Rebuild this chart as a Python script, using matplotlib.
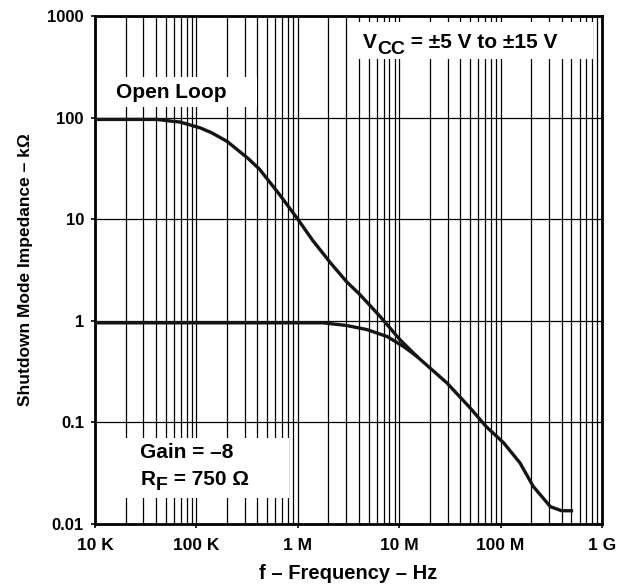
import matplotlib
matplotlib.use("Agg")
import matplotlib.pyplot as plt
import numpy as np
from matplotlib.patches import Rectangle
from matplotlib.ticker import FixedLocator, LogLocator, NullFormatter

plt.rcParams['font.family'] = ['Liberation Sans', 'DejaVu Sans']
plt.rcParams['font.weight'] = 'bold'

# frequency (Hz) and impedance (kOhm)
open_f = [1e4, 4.1e4, 5.8e4, 6.9e4, 1.1e5, 1.41e5, 2e5, 3.2e5, 4.2e5, 6.6e5,
          1e6, 1.4e6, 2.1e6, 3e6, 4.1e6, 6.5e6, 1.02e7, 1.48e7, 2e7, 2.95e7,
          5e7, 7.2e7, 1.07e8, 1.55e8, 2.1e8, 3.1e8, 4e8, 5e8]
open_z = [96, 96, 92, 90.5, 79, 71, 58.5, 40, 31, 17.5,
          10, 6.2, 3.72, 2.45, 1.81, 1.1, 0.65, 0.45, 0.345, 0.245,
          0.139, 0.091, 0.063, 0.040, 0.0234, 0.0148, 0.0135, 0.0135]

closed_f = [1e4, 1e5, 1e6, 1.78e6, 3e6, 4.8e6, 7.6e6, 1.1e7, 1.48e7]
closed_z = [0.955, 0.955, 0.955, 0.955, 0.90, 0.82, 0.70, 0.56, 0.45]

x_ticks = [1e4, 1e5, 1e6, 1e7, 1e8, 1e9]
x_labels = ["10 K", "100 K", "1 M", "10 M", "100 M", "1 G"]
y_ticks = [0.01, 0.1, 1, 10, 100, 1000]
y_labels = ["0.01", "0.1", "1", "10", "100", "1000"]

fig = plt.figure(figsize=(6.28, 5.85), dpi=100)
ax = fig.add_axes([0.1513, 0.1043, 0.8073, 0.8683])

ax.loglog(open_f, open_z, color="#151515", lw=2.4, zorder=4)
ax.loglog(closed_f, closed_z, color="#151515", lw=2.4, zorder=4)

ax.set_xlim(1e4, 1e9)
ax.set_ylim(0.01, 1000)
ax.set_xticks(x_ticks)
ax.set_xticklabels(x_labels)
ax.set_yticks(y_ticks)
ax.set_yticklabels(y_labels)
ax.xaxis.set_minor_locator(LogLocator(base=10, subs=np.arange(2, 10), numticks=20))
ax.xaxis.set_minor_formatter(NullFormatter())
ax.yaxis.set_minor_locator(FixedLocator([]))

ax.grid(True, which="both", axis="x", color="black", lw=0.9)
ax.grid(True, which="major", axis="y", color="black", lw=0.9)
ax.tick_params(which="major", length=3, width=1.2, direction="out")
ax.tick_params(axis="x", labelsize=12.5, pad=7)
ax.tick_params(axis="y", labelsize=12, pad=5)
ax.tick_params(which="minor", length=0)
for s in ax.spines.values():
    s.set_linewidth(2)

ax.set_xlabel("f \u2013 Frequency \u2013 Hz", fontsize=14.5, fontweight="bold", labelpad=8)
ax.set_ylabel("Shutdown Mode Impedance \u2013 k\u03a9", fontsize=12.5, fontweight="bold", labelpad=10)

# white boxes hiding the grid behind the notes
for (x0, y0, w, h) in [(0.0, 0.821, 0.32, 0.059), (0.517, 0.915, 0.465, 0.073),
                       (0.059, 0.051, 0.324, 0.118)]:
    ax.add_patch(Rectangle((x0, y0), w, h, transform=ax.transAxes,
                           facecolor="white", edgecolor="none", zorder=2.5))

ax.text(0.151, 0.85, "Open Loop", transform=ax.transAxes, fontsize=15,
        ha="center", va="center", zorder=5)


def sub_label(x, y, main, sub, rest):
    t1 = ax.text(x, y, main, transform=ax.transAxes, fontsize=15,
                 ha="left", va="baseline", zorder=5)
    t2 = ax.annotate(sub, xy=(1, 0), xycoords=t1, xytext=(0.5, -4),
                     textcoords="offset points", fontsize=14, va="bottom", zorder=5)
    ax.annotate(rest, xy=(1, 0), xycoords=t2, xytext=(0, 4),
                textcoords="offset points", fontsize=15, va="bottom", zorder=5)


sub_label(0.528, 0.937, "V", "CC", " = \u00b15 V to \u00b115 V")
ax.text(0.089, 0.13, "Gain = \u20138", transform=ax.transAxes, fontsize=15,
        ha="left", va="baseline", zorder=5)
sub_label(0.089, 0.077, "R", "F", " = 750 \u03a9")

fig.savefig("out.png", dpi=100)
